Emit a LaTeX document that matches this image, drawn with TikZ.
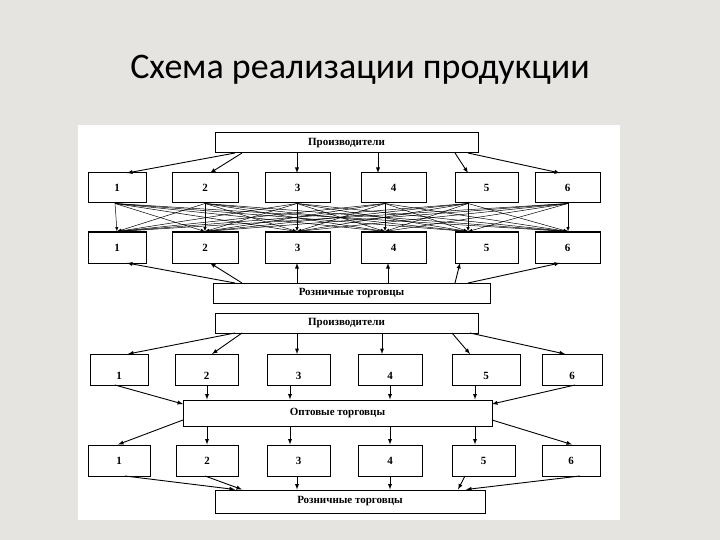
\documentclass[tikz,border=0pt]{standalone}
\usepackage{fontspec}
\setmainfont{Liberation Serif}
\newfontfamily\titlefont{Carlito}
\definecolor{bgc}{HTML}{E6E4E0}
\begin{document}
\begin{tikzpicture}[x=1pt,y=-1pt,
  bx/.style={draw,line width=1pt,fill=white,inner sep=0pt,font=\bfseries\fontsize{11}{12}\selectfont},
  ar/.style={-latex,line width=0.9pt},
  thin/.style={-latex,line width=0.5pt}]
\fill[bgc] (0,0) rectangle (720,540);
\useasboundingbox (0,0) rectangle (720,540);
\fill[white] (78,125) rectangle (620,520);
\node[font=\titlefont\fontsize{36}{42}\selectfont] (title) at (360,70) {Схема реализации продукции};
% ---------- top scheme
\node[bx,minimum width=263,minimum height=20] (P1) at (346.5,143) {Производители};
\node[bx,minimum width=277,minimum height=20] (R1) at (351.5,293) {Розничные торговцы};
\foreach \i/\a/\b in {1/88/146,2/172/238,3/265/330,4/361/426,5/455/518,6/535/600}{
  \node[bx,minimum width=\b-\a,minimum height=30] (A\i) at ({(\a+\b)/2},188) {\i};
  \node[bx,minimum width=\b-\a,minimum height=31] (B\i) at ({(\a+\b)/2},247.5) {\i};
}
\coordinate (p1) at (235,153);\coordinate (p2) at (242,153);\coordinate (p3) at (297,153);
\coordinate (p4) at (378,153);\coordinate (p5) at (455,153);\coordinate (p6) at (468,153);
\coordinate (t1) at (127,173);\coordinate (t2) at (210,173);\coordinate (t3) at (297,173);
\coordinate (t4) at (378,173);\coordinate (t5) at (468,173);\coordinate (t6) at (560,173);
\foreach \i in {1,...,6}{\draw[ar] (p\i) -- (t\i);}
\foreach \i/\x in {1/115,2/205,3/297,4/385,5/468,6/568}{
  \foreach \j/\y in {1/117,2/205,3/297,4/385,5/468,6/568}{
    \draw[thin] (A\i.south -| \x,0) -- (B\j.north -| \y,0);
  }
}
\coordinate (r1) at (235,283);\coordinate (r2) at (242,283);\coordinate (r3) at (297,283);
\coordinate (r4) at (388,283);\coordinate (r5) at (455,283);\coordinate (r6) at (468,283);
\coordinate (u1) at (127,263);\coordinate (u2) at (210,263);\coordinate (u3) at (297,263);
\coordinate (u4) at (388,263);\coordinate (u5) at (460,263);\coordinate (u6) at (560,263);
\foreach \i in {1,...,6}{\draw[ar] (r\i) -- (u\i);}
% ---------- bottom scheme
\node[bx,minimum width=263,minimum height=20] (P2) at (346.5,323) {Производители};
\node[bx,minimum width=309,minimum height=26] (W) at (337.5,413) {Оптовые торговцы};
\node[bx,minimum width=270,minimum height=23] (R2) at (350,501.5) {Розничные торговцы};
\foreach \i/\a/\b in {1/90/148,2/175/238,3/267/330,4/358/422,5/452/520,6/542/602}{
  \node[bx,minimum width=\b-\a,minimum height=31] (C\i) at ({(\a+\b)/2},369.5) {};
  \node[font=\bfseries\fontsize{11}{12}\selectfont] (c\i) at ({(\a+\b)/2},376) {\i};
}
\foreach \i/\a/\b in {1/88/150,2/176/238,3/267/330,4/358/422,5/452/515,6/542/600}{
  \node[bx,minimum width=\b-\a,minimum height=31] (D\i) at ({(\a+\b)/2},460.5) {\i};
}
\coordinate (q1) at (235,333);\coordinate (q2) at (242,333);\coordinate (q3) at (297,333);
\coordinate (q4) at (382,333);\coordinate (q5) at (452,333);\coordinate (q6) at (470,333);
\coordinate (v1) at (128,354);\coordinate (v2) at (212,354);\coordinate (v3) at (297,354);
\coordinate (v4) at (382,354);\coordinate (v5) at (470,354);\coordinate (v6) at (565,354);
\foreach \i in {1,...,6}{\draw[ar] (q\i) -- (v\i);}
\coordinate (w1) at (183,404);\coordinate (w6) at (492,404);
\draw[ar] (115,385) -- (w1);
\draw[ar] (575,385) -- (w6);
\foreach \x in {207,290,390,475}{\draw[ar] (\x,385) -- (W.north -| \x,0);}
\draw[ar] (183,420) -- (D1.north -| 118,0);
\draw[ar] (492,420) -- (D6.north -| 572,0);
\foreach \x in {207,290,390,475}{\draw[ar] (W.south -| \x,0) -- (D1.north -| \x,0);}
\draw[ar] (125,476) -- (R2.north -| 235,0);
\draw[ar] (205,476) -- (R2.north -| 242,0);
\draw[ar] (297,476) -- (R2.north -| 297,0);
\draw[ar] (390,476) -- (R2.north -| 390,0);
\draw[ar] (465,476) -- (R2.north -| 458,0);
\draw[ar] (580,476) -- (R2.north -| 466,0);
\end{tikzpicture}
\end{document}
